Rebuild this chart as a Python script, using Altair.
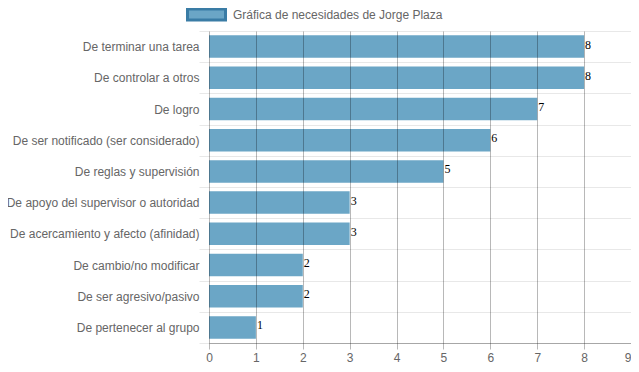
import altair as alt
import pandas as pd

categories = [
    "De terminar una tarea",
    "De controlar a otros",
    "De logro",
    "De ser notificado (ser considerado)",
    "De reglas y supervisión",
    "De apoyo del supervisor o autoridad",
    "De acercamiento y afecto (afinidad)",
    "De cambio/no modificar",
    "De ser agresivo/pasivo",
    "De pertenecer al grupo",
]
values = [8, 8, 7, 6, 5, 3, 3, 2, 2, 1]
series_name = "Gráfica de necesidades de Jorge Plaza"
x_ticks = list(range(10))

df = pd.DataFrame({"categoria": categories, "valor": values, "serie": series_name})

FONT = "Liberation Sans"
BAR = "#6ba6c6"

y_enc = alt.Y(
    "categoria:N",
    sort=categories,
    scale=alt.Scale(paddingInner=0, paddingOuter=0),
    axis=alt.Axis(
        title=None,
        tickBand="extent",
        grid=True,
        gridColor="#000000",
        gridOpacity=0.09,
        tickColor="#000000",
        tickOpacity=0.09,
        tickSize=10,
        labelPadding=0,
        domain=False,
        labelFont=FONT,
        labelFontSize=12,
        labelColor="#666666",
        labelLimit=400,
    ),
)

x_enc = alt.X(
    "valor:Q",
    scale=alt.Scale(domain=[0, 9], nice=False),
    axis=alt.Axis(
        title=None,
        values=x_ticks,
        grid=True,
        gridColor="#000000",
        gridOpacity=0.28,
        tickColor="#000000",
        tickOpacity=0.28,
        tickSize=6,
        labelPadding=3,
        domainColor="#000000",
        domainOpacity=0.28,
        labelFont=FONT,
        labelFontSize=12,
        labelColor="#666666",
        labelFlush=False,
        labelAlign={"expr": "datum.value == 9 ? 'right' : 'center'"},
        zindex=1,
    ),
)

bars = alt.Chart(df).mark_bar(height={"band": 0.72}).encode(
    x=x_enc,
    y=y_enc,
    color=alt.Color(
        "serie:N",
        scale=alt.Scale(range=[BAR]),
        legend=alt.Legend(
            title=None,
            orient="none",
            legendX=-23,
            legendY=-37,
            symbolType="M-1,-0.29H1V0.29H-1Z",
            symbolSize=1444,
            symbolFillColor=BAR,
            symbolStrokeColor="#3a7ca5",
            symbolStrokeWidth=3,
            symbolOpacity=1,
            labelFont=FONT,
            labelFontSize=12,
            labelColor="#666666",
            labelOffset=6,
            labelLimit=400,
        ),
    ),
)

text = alt.Chart(df).mark_text(
    align="left", baseline="middle", dx=1, dy=-2,
    font="Liberation Serif", fontSize=12, color="#000000",
).encode(
    x=alt.X("valor:Q"),
    y=alt.Y("categoria:N", sort=categories),
    text="valor:Q",
)

chart = alt.layer(bars, text).properties(
    width=422,
    height=312,
    autosize=alt.AutoSizeParams(type="none"),
    padding={"left": 201, "top": 23, "right": 0, "bottom": 20},
).configure_view(stroke=None)

chart.save("out.html", embed_options={"renderer": "svg", "actions": False})
